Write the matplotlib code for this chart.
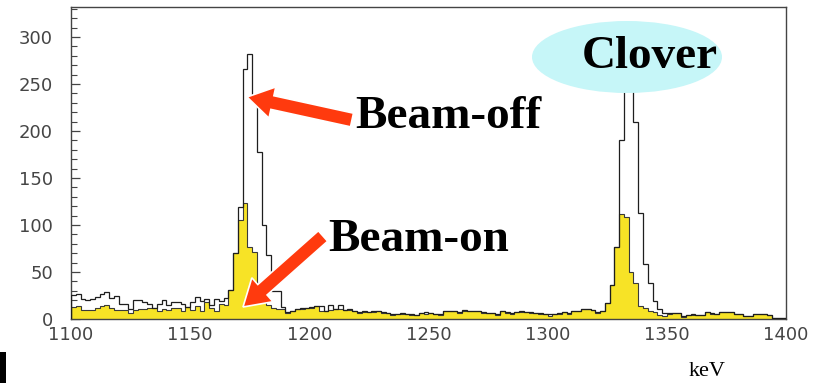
import numpy as np
import matplotlib
matplotlib.use("Agg")
import matplotlib.pyplot as plt
import matplotlib.transforms as mtransforms
from matplotlib.patches import Ellipse, FancyArrow, Rectangle
from matplotlib.ticker import MultipleLocator

# spectrum: 150 bins of 2 keV from 1100 to 1400 keV
e_lo, e_hi, n_bins = 1100, 1400, 150

beam_on = [
    13, 14, 10, 10, 10, 12, 14, 15, 12, 10, 10, 10, 6, 10, 11, 11, 12, 12, 9, 11,
    10, 12, 12, 9, 13, 10, 14, 9, 18, 12, 9, 16, 15,
    31, 70, 105, 123, 77, 71, 38, 20, 15, 12, 11,
    11, 6, 8, 11, 11, 12, 12, 14, 8, 8,
    10, 11, 11, 10, 10, 8, 6, 7, 7, 7,
    8, 6, 6, 4, 5, 5, 5, 4, 4, 6,
    5, 6, 5, 4, 8, 8, 8, 6, 9, 8,
    8, 9, 6, 6, 6, 4, 8, 6, 5, 7,
    7, 7, 6, 6, 5, 5, 3, 5, 5, 7,
    5, 8, 8, 11, 11, 10, 6, 8,
    17, 36, 77, 112, 109, 50, 38, 14,
    12, 9, 7, 4, 3, 5, 6, 6, 2, 4,
    4, 4, 4, 7, 5, 5, 7, 7, 7, 5,
    5, 3, 3, 5, 5, 5, 4, 1, 1, 1,
]

beam_off = [
    26, 27, 21, 20, 21, 23, 27, 29, 22, 24, 16, 16, 11, 20, 20, 18, 16, 12, 16, 20,
    15, 18, 18, 16, 13, 18, 23, 19, 21, 15, 21, 19, 22,
    31, 70, 119, 266, 282, 235, 178, 100, 68, 30, 30,
    13, 7, 8, 11, 12, 12, 13, 14, 14, 9,
    15, 11, 15, 10, 11, 8, 7, 9, 7, 8,
    8, 7, 6, 5, 5, 6, 5, 5, 4, 6,
    7, 6, 5, 5, 8, 9, 8, 7, 10, 8,
    9, 9, 7, 6, 6, 5, 8, 7, 6, 7,
    8, 7, 7, 6, 6, 5, 5, 5, 6, 7,
    6, 8, 9, 11, 11, 10, 7, 8,
    17, 36, 77, 190, 252, 260, 210, 113,
    58, 38, 19, 11, 6, 6, 6, 6, 3, 4,
    5, 4, 4, 7, 6, 5, 7, 7, 7, 5,
    5, 3, 3, 5, 5, 5, 4, 1, 1, 1,
]

x_ticks = [1100, 1150, 1200, 1250, 1300, 1350, 1400]
y_ticks = [0, 50, 100, 150, 200, 250, 300]

edges = np.linspace(e_lo, e_hi, n_bins + 1)

W, H = 814, 383
fig = plt.figure(figsize=(W / 100, H / 100), dpi=100)
ax = fig.add_axes([71 / W, 1 - 319 / H, 715 / W, 312 / H])

yellow = "#f7e326"
ax.stairs(beam_on, edges, fill=True, color=yellow, zorder=2)
ax.stairs(beam_on, edges, color="#3a3a3a", lw=0.8, zorder=3)
ax.stairs(beam_off, edges, color="#1e1e1e", lw=0.9, zorder=4)

ax.set_xlim(e_lo, e_hi)
ax.set_ylim(0, 332)
ax.set_xticks(x_ticks)
ax.set_yticks(y_ticks)
ax.yaxis.set_minor_locator(MultipleLocator(10))
ax.tick_params(axis="x", length=0, pad=5, labelsize=13, labelcolor="#454545")
ax.tick_params(axis="y", which="major", direction="in", length=6.5, width=0.9,
               pad=13, labelsize=13, labelcolor="#454545", color="#444444")
ax.tick_params(axis="y", which="minor", direction="in", length=4.2, width=0.8,
               color="#444444")
for lab in ax.get_xticklabels() + ax.get_yticklabels():
    lab.set_fontfamily("DejaVu Sans")
for sp in ax.spines.values():
    sp.set_color("#444444")
    sp.set_linewidth(1.0)

# annotations placed in pixel coordinates (origin top-left)
px = mtransforms.Affine2D().scale(1 / W, -1 / H).translate(0, 1) + fig.transFigure

fig.patches.append(Ellipse((627, 57), 190, 72, transform=px, facecolor="#c6f6f8",
                           edgecolor="none", zorder=5))
fig.text(650, 57, "Clover", transform=px, ha="center", va="center",
         fontsize=34, fontweight="bold", family="Liberation Serif", zorder=6)

red = "#ff3a0e"
fig.patches.append(FancyArrow(352, 120, 247 - 352, 97 - 120, width=14, head_width=32,
                              head_length=26, length_includes_head=True,
                              transform=px, facecolor=red, edgecolor="white",
                              lw=1.2, zorder=6))
fig.patches.append(FancyArrow(323, 236, 243 - 323, 307 - 236, width=14, head_width=32,
                              head_length=26, length_includes_head=True,
                              transform=px, facecolor=red, edgecolor="white",
                              lw=1.2, zorder=6))
fig.text(355, 117, "Beam-off", transform=px, ha="left", va="center",
         fontsize=34, fontweight="bold", family="Liberation Serif", zorder=7)
fig.text(328, 240, "Beam-on", transform=px, ha="left", va="center",
         fontsize=34, fontweight="bold", family="Liberation Serif", zorder=7)

fig.text(707, 372, "keV", transform=px, ha="center", va="center",
         fontsize=16, family="Liberation Serif")

fig.patches.append(Rectangle((0, 352), 6, 31, transform=px, facecolor="black",
                             edgecolor="none"))

fig.savefig("out.png", dpi=100)
